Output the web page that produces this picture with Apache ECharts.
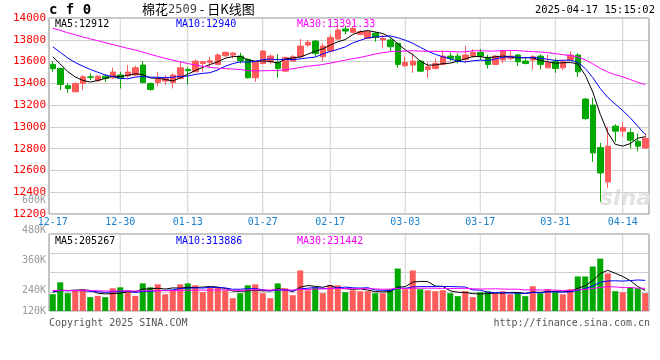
<!DOCTYPE html>
<html><head><meta charset="utf-8">
<script src="https://cdn.jsdelivr.net/npm/echarts@6/dist/echarts.min.js"></script>
<style>html,body{margin:0;padding:0;background:#fff}#c{width:660px;height:360px}</style>
</head><body><div id="c"></div>
<script>
// ---- data ----
const dates = ['12-17','12-18','12-19','12-20','12-23','12-24','12-25','12-26','12-27','12-30','12-31',
 '01-02','01-03','01-06','01-07','01-08','01-09','01-10','01-13','01-14','01-15','01-16','01-17','01-20','01-21','01-22','01-23','01-24','01-27',
 '02-05','02-06','02-07','02-10','02-11','02-12','02-13','02-14','02-17','02-18','02-19','02-20','02-21','02-24','02-25','02-26','02-27','02-28',
 '03-03','03-04','03-05','03-06','03-07','03-10','03-11','03-12','03-13','03-14','03-17','03-18','03-19','03-20','03-21','03-24','03-25','03-26','03-27','03-28','03-31',
 '04-01','04-02','04-03','04-07','04-08','04-09','04-10','04-11','04-14','04-15','04-16','04-17'];
const opens = [13574,13537,13378,13322,13399,13460,13424,13466,13451,13476,
 13470,13476,13568,13399,13408,13421,13408,13445,13528,13506,
 13583,13592,13574,13653,13660,13650,13620,13451,13583,13598,
 13592,13512,13604,13644,13752,13788,13644,13696,13807,13899,
 13868,13850,13813,13859,13798,13798,13767,13561,13568,13604,
 13528,13537,13574,13650,13650,13620,13650,13684,13638,13574,
 13614,13629,13660,13604,13614,13650,13543,13598,13543,13614,
 13660,13255,13200,12810,12495,13007,12961,12948,12868,12807];
const closes = [13534,13390,13353,13399,13460,13455,13466,13445,13503,13445,
 13503,13543,13408,13344,13439,13445,13476,13543,13516,13604,
 13598,13607,13660,13684,13678,13607,13451,13598,13696,13650,
 13537,13638,13644,13742,13776,13675,13742,13822,13890,13880,
 13905,13874,13874,13822,13813,13736,13574,13592,13604,13512,
 13552,13583,13650,13629,13604,13660,13684,13650,13574,13650,
 13696,13650,13598,13583,13644,13574,13589,13537,13598,13660,
 13506,13077,12761,12577,12823,12961,12994,12878,12823,12893];
const lows = [13506,13338,13313,13319,13338,13430,13414,13414,13439,13353,
 13451,13466,13399,13332,13374,13384,13353,13436,13390,13506,
 13506,13552,13568,13644,13629,13583,13445,13414,13574,13574,
 13451,13506,13598,13629,13736,13644,13604,13690,13798,13850,
 13859,13838,13807,13782,13727,13696,13543,13552,13497,13506,
 13451,13528,13568,13604,13583,13589,13635,13614,13537,13568,
 13583,13614,13561,13574,13528,13528,13537,13497,13522,13604,
 13460,13062,12679,12311,12439,12862,12908,12801,12776,12801];
const highs = [13601,13543,13399,13408,13476,13491,13476,13482,13543,13506,
 13568,13561,13604,13408,13503,13476,13491,13598,13552,13620,
 13604,13644,13675,13696,13684,13681,13629,13604,13706,13666,
 13666,13644,13660,13807,13798,13798,13767,13850,13926,13926,
 13920,13890,13890,13874,13844,13813,13776,13644,13675,13614,
 13592,13629,13706,13681,13675,13745,13715,13715,13660,13660,
 13706,13706,13669,13629,13660,13666,13666,13629,13614,13696,
 13675,13267,13267,12853,13000,13025,13046,12985,12939,12939];
// volume in thousands of lots
const volumes = [174,298,185,215,226,144,157,144,236,246,
 215,157,287,246,277,174,215,277,287,267,
 195,246,246,215,133,185,267,277,185,133,
 287,236,164,421,215,246,185,267,267,195,
 215,205,205,185,185,226,441,226,421,226,
 215,205,215,185,154,205,144,195,205,185,
 205,174,195,154,257,185,226,195,174,226,
 359,359,462,544,390,205,195,246,236,185];
// estimated sessions before the window (only feed the moving averages)
const prevCloses = [13960,14010,13980,14030,13990,13950,14020,14000,13970,14040,13990,13960,14010,13980,14000,13950,
 14020,13990,13980,13978,13900,13870,13820,13790,13758,13720,13700,13650,13614];
const prevVolumes = [215,230,205,190,240,220,210,225,235,200,215,205,230,220,210,195,225,240,215,205,220,210,200,230,215,195,205,190,210];

const xTickLabels = ['12-17','12-30','01-13','01-27','02-17','03-03','03-17','03-31','04-14'];
const volTickLabels = ['120K','240K','360K','480K','600K'];
const priceLegend = ['MA5:12912','MA10:12940','MA30:13391.33'];
const volLegend = ['MA5:205267','MA10:313886','MA30:231442'];
const priceMin = 12200, priceMax = 14000, priceStep = 200;
const volMax = 800, volStep = 200;

// ---- helpers ----
function ma(vals, prev, n){
  const all = prev.concat(vals), off = prev.length;
  return vals.map((_, i) => { let s = 0; for (let k = 0; k < n; k++) s += all[off + i - k]; return +(s / n).toFixed(2); });
}
const UP = '#ff5b5b', DOWN = '#00a800';
const MONO = 'DejaVu Sans Mono';
const GRIDC = '#cfcfcf';
const kData = dates.map((d, i) => [opens[i], closes[i], lows[i], highs[i]]);
const volData = volumes.map((v, i) => ({ value: v, itemStyle: { color: closes[i] >= opens[i] ? UP : DOWN } }));
const gridLine = { color: GRIDC, type: 'solid', width: 1 };

// vertical grid lines at the labelled dates: two-point line series on the category scale
function vGrid(xi, yi, lo, hi){
  return xTickLabels.slice(1).map(d => ({ type: 'line', xAxisIndex: xi, yAxisIndex: yi, silent: true, z: 1,
    data: [[d, lo], [d, hi]], showSymbol: false, symbol: 'none', animation: false,
    lineStyle: { color: GRIDC, width: 1 } }));
}

function lineSeries(name, data, color, xi, yi){
  return { name, type: 'line', data, xAxisIndex: xi, yAxisIndex: yi, showSymbol: false, symbol: 'none',
    lineStyle: { color, width: 1 }, itemStyle: { color }, silent: true, animation: false, z: 5 };
}
function legendTexts(arr, y){
  const xs = [55, 176, 297], cols = ['#000', '#0000ff', '#ff00ff'];
  return arr.map((t, i) => ({ type: 'text', left: xs[i], top: y, z: 100,
    style: { text: t, fill: cols[i], font: '10px "' + MONO + '"' } }));
}

const chart = echarts.init(document.getElementById('c'), null, { renderer: 'canvas' });
chart.setOption({
  animation: false,
  backgroundColor: '#fff',
  grid: [
    { left: 49, width: 600, top: 18, height: 196, show: true, borderColor: '#888', borderWidth: 1, backgroundColor: 'rgba(0,0,0,0)' },
    { left: 49, width: 600, top: 234, height: 77, show: true, borderColor: '#888', borderWidth: 1, backgroundColor: 'rgba(0,0,0,0)' },
    { left: 49, width: 600, top: 200, height: 120, show: false }
  ],
  xAxis: [
    { type: 'category', data: dates, gridIndex: 0, boundaryGap: true,
      axisLine: { show: false }, axisTick: { show: false }, splitLine: { show: false },
      axisLabel: { interval: (i, v) => xTickLabels.includes(v), color: '#1a82d0', fontFamily: MONO, fontSize: 10, margin: 3 } },
    { type: 'category', data: dates, gridIndex: 1, boundaryGap: true,
      axisLine: { show: false }, axisTick: { show: false }, splitLine: { show: false }, axisLabel: { show: false } },
    { type: 'value', gridIndex: 2, show: false, min: 0, max: 1 }
  ],
  yAxis: [
    { type: 'value', gridIndex: 0, min: priceMin, max: priceMax, interval: priceStep,
      axisLine: { show: false }, axisTick: { show: false },
      splitLine: { show: true, lineStyle: gridLine },
      axisLabel: { formatter: v => String(v), color: '#ff0000', fontFamily: MONO, fontSize: 11, margin: 3, padding: [0, 0, 4, 0] } },
    { type: 'value', gridIndex: 1, min: 0, max: volMax, interval: volStep,
      axisLine: { show: false }, axisTick: { show: false },
      splitLine: { show: true, lineStyle: gridLine }, axisLabel: { show: false } },
    { type: 'value', gridIndex: 2, min: 0, max: 4, interval: 1,
      axisLine: { show: false }, axisTick: { show: false }, splitLine: { show: false },
      axisLabel: { margin: 3, color: '#999', fontFamily: MONO, fontSize: 10,
        formatter: v => v === 0 ? '{lo|' + volTickLabels[0] + '}' : volTickLabels[v],
        rich: { lo: { padding: [0, 0, 18, 0], color: '#999', fontFamily: MONO, fontSize: 10 } } } }
  ],
  series: [
    ...vGrid(0, 0, priceMin, priceMax),
    ...vGrid(1, 1, 0, volMax),
    { name: 'K', type: 'candlestick', data: kData, xAxisIndex: 0, yAxisIndex: 0, barWidth: 6, silent: true, z: 3,
      itemStyle: { color: UP, color0: DOWN, borderColor: UP, borderColor0: DOWN, borderWidth: 1 } },
    lineSeries('MA5', ma(closes, prevCloses, 5), '#000000', 0, 0),
    lineSeries('MA10', ma(closes, prevCloses, 10), '#0000ff', 0, 0),
    lineSeries('MA30', ma(closes, prevCloses, 30), '#ff00ff', 0, 0),
    { name: 'VOL', type: 'bar', data: volData, xAxisIndex: 1, yAxisIndex: 1, barWidth: 6, silent: true, z: 3 },
    lineSeries('VMA5', ma(volumes, prevVolumes, 5), '#000000', 1, 1),
    lineSeries('VMA10', ma(volumes, prevVolumes, 10), '#0000ff', 1, 1),
    lineSeries('VMA30', ma(volumes, prevVolumes, 30), '#ff00ff', 1, 1)
  ],
  graphic: [
    { type: 'text', left: 49, top: 3, style: { text: 'c f 0', fill: '#000', font: 'bold 14px "' + MONO + '"' } },
    { type: 'text', left: 142, top: 3, style: { text: '{a|棉花}{b|2509}{a| - 日K线图}',
      rich: { a: { fill: '#000', fontFamily: 'Noto Sans CJK SC', fontSize: 13 }, b: { fill: '#444', fontFamily: MONO, fontSize: 12 } } } },
    { type: 'text', right: 5, top: 5, style: { text: '2025-04-17 15:15:02', fill: '#000', font: '10.5px "' + MONO + '"' } },
    ...legendTexts(priceLegend, 19),
    ...legendTexts(volLegend, 236),
    { type: 'text', left: 600, top: 188, z: 0, style: { text: 'sina', fill: '#e2e2e2', font: 'italic bold 22px "DejaVu Sans"' } },
    { type: 'text', left: 49, top: 318, style: { text: 'Copyright 2025 SINA.COM', fill: '#555', font: '10px "' + MONO + '"' } },
    { type: 'text', right: 10, top: 318, style: { text: 'http://finance.sina.com.cn', fill: '#555', font: '10px "' + MONO + '"' } }
  ]
});
</script></body></html>
